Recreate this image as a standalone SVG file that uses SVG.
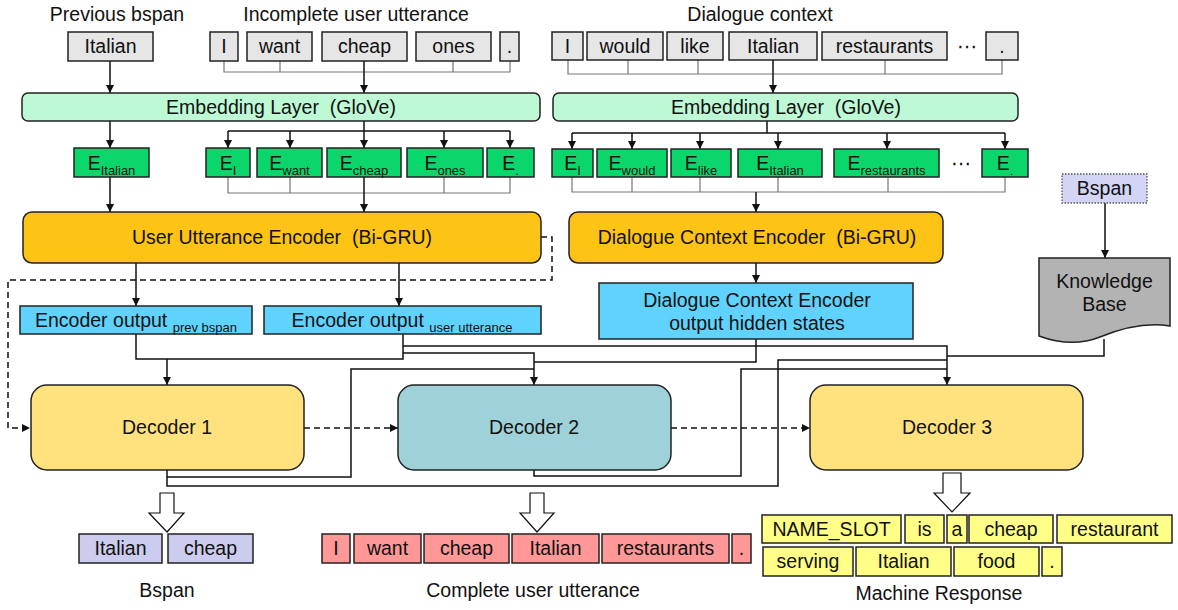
<svg xmlns="http://www.w3.org/2000/svg" width="1178" height="610" viewBox="0 0 1178 610">
<defs>
<style>
text{font-family:"Liberation Sans",Arial,"DejaVu Sans",sans-serif;font-size:19.5px;fill:#111;text-anchor:middle}
.s{font-size:13px}
.b{stroke:#222;stroke-width:1.5}
.gr{fill:#e6e6e6}
.em{fill:#bdf9d5}
.ge{fill:#0bd66b}
.en{fill:#fdc315}
.eo{fill:#5fd3fd}
.d1{fill:#ffe17e}
.d2{fill:#9fd2d8}
.lv{fill:#ccccee}
.rd{fill:#ff9896}
.yl{fill:#ffff88}
.ln{fill:none;stroke:#111;stroke-width:1.5}
.br{fill:none;stroke:#777;stroke-width:1.2}
.da{stroke-dasharray:6 4}
.ha{fill:#fff;stroke:#111;stroke-width:1.2}
</style>
<marker id="a" viewBox="0 0 10 10" refX="10" refY="5" markerWidth="8" markerHeight="8" markerUnits="userSpaceOnUse" orient="auto"><path d="M0,0 L10,5 L0,10 z" fill="#111"/></marker>
</defs>
<rect width="1178" height="610" fill="#fff"/>

<g id="titles">
<text x="117" y="21">Previous bspan</text>
<text x="356" y="21">Incomplete user utterance</text>
<text x="760" y="21">Dialogue context</text>
</g>

<g id="connectors">
<path class="ln" d="M110,61 V93" marker-end="url(#a)"/>
<path class="br" d="M224,61 V72 H510 V61 M280,61 V72 M453,61 V72"/>
<path class="ln" d="M364,61 V93" marker-end="url(#a)"/>
<path class="ln" d="M110,121 V148" marker-end="url(#a)"/>
<path class="ln" d="M364,121 V131 M228,131 H510"/>
<path class="ln" d="M228,131 V148" marker-end="url(#a)"/>
<path class="ln" d="M290,131 V148" marker-end="url(#a)"/>
<path class="ln" d="M364,131 V148" marker-end="url(#a)"/>
<path class="ln" d="M444,131 V148" marker-end="url(#a)"/>
<path class="ln" d="M510,131 V148" marker-end="url(#a)"/>
<path class="br" d="M228,177 V193 H510 V177 M290,177 V193 M444,177 V193"/>
<path class="ln" d="M364,177 V212" marker-end="url(#a)"/>
<path class="ln" d="M110,177 V212" marker-end="url(#a)"/>
<path class="br" d="M568,60 V74 H1002 V60 M628,60 V74 M698,60 V74 M885,60 V74"/>
<path class="ln" d="M773,60 V93" marker-end="url(#a)"/>
<path class="ln" d="M767,121 V133 M572,133 H1005"/>
<path class="ln" d="M572,133 V149" marker-end="url(#a)"/>
<path class="ln" d="M632,133 V149" marker-end="url(#a)"/>
<path class="ln" d="M700,133 V149" marker-end="url(#a)"/>
<path class="ln" d="M778,133 V149" marker-end="url(#a)"/>
<path class="ln" d="M887,133 V149" marker-end="url(#a)"/>
<path class="ln" d="M1005,133 V149" marker-end="url(#a)"/>
<path class="br" d="M572,177 V192 H1005 V177 M632,177 V192 M700,177 V192 M778,177 V192 M888,177 V192"/>
<path class="ln" d="M756,192 V212" marker-end="url(#a)"/>
<path class="ln" d="M756,263 V283" marker-end="url(#a)"/>
<path class="ln" d="M1105,203 V258" marker-end="url(#a)"/>
<path class="ln" d="M136,263 V306" marker-end="url(#a)"/>
<path class="ln" d="M399,263 V306" marker-end="url(#a)"/>
<path class="ln da" d="M541,237 H552 V280 H8 V428 H30" marker-end="url(#a)"/>
<path class="ln" d="M136,334 V359 H403 V334"/>
<path class="ln" d="M167,359 V385" marker-end="url(#a)"/>
<path class="ln" d="M403,346 H947 V385" marker-end="url(#a)"/>
<path class="ln" d="M403,353 H534 V385" marker-end="url(#a)"/>
<path class="ln" d="M756,339 V362 H534"/>
<path class="ln" d="M1104,339 V356 H947"/>
<path class="ln" d="M167,470 V486 H778 V360 H947"/>
<path class="ln" d="M167,477 H351 V369 H534"/>
<path class="ln" d="M534,470 V476 H741 V369 H947"/>
<path class="ln da" d="M304,428 H398" marker-end="url(#a)"/>
<path class="ln da" d="M671,428 H810" marker-end="url(#a)"/>
<path class="ha" d="M160,493 H174 V513 H184 L167,532 L149,513 H160 Z"/>
<path class="ha" d="M530,493 H544 V513 H554 L537,532 L520,513 H530 Z"/>
<path class="ha" d="M943,473 H961 V493 H970 L952,512 L934,493 H943 Z"/>
</g>

<g id="prev-bspan-input">
<rect class="b gr" x="68" y="32" width="85" height="29"/><text x="110.5" y="53">Italian</text>
</g>
<g id="user-utterance-input">
<rect class="b gr" x="210" y="32" width="28" height="29"/><text x="224" y="53">I</text>
<rect class="b gr" x="247" y="32" width="65" height="29"/><text x="279.5" y="53">want</text>
<rect class="b gr" x="322" y="32" width="85" height="29"/><text x="364.5" y="53">cheap</text>
<rect class="b gr" x="416" y="32" width="75" height="29"/><text x="453.5" y="53">ones</text>
<rect class="b gr" x="500" y="32" width="19" height="29"/><text x="509.5" y="53">.</text>
</g>
<g id="dialogue-context-input">
<rect class="b gr" x="552" y="32" width="31" height="28"/><text x="567.5" y="53">I</text>
<rect class="b gr" x="587" y="32" width="76" height="28"/><text x="625" y="53">would</text>
<rect class="b gr" x="667" y="32" width="56" height="28"/><text x="695" y="53">like</text>
<rect class="b gr" x="729" y="32" width="88" height="28"/><text x="773" y="53">Italian</text>
<rect class="b gr" x="822" y="32" width="125" height="28"/><text x="884.5" y="53">restaurants</text>
<text x="967" y="53">⋯</text>
<rect class="b gr" x="986" y="32" width="32" height="28"/><text x="1002" y="53">.</text>
</g>

<g id="embedding-1">
<rect class="b em" x="22" y="93" width="518" height="28" rx="6"/>
<text x="281" y="114">Embedding Layer&#160; (GloVe)</text>
</g>
<g id="embedding-2">
<rect class="b em" x="553" y="93" width="465" height="28" rx="6"/>
<text x="786" y="114">Embedding Layer&#160; (GloVe)</text>
</g>

<g id="embeddings-left">
<rect class="b ge" x="74" y="148" width="75" height="29"/><text x="111.5" y="170">E<tspan class="s" dy="5">Italian</tspan></text>
<rect class="b ge" x="206" y="148" width="44" height="29"/><text x="228" y="170">E<tspan class="s" dy="5">I</tspan></text>
<rect class="b ge" x="257" y="148" width="65" height="29"/><text x="289.5" y="170">E<tspan class="s" dy="5">want</tspan></text>
<rect class="b ge" x="327" y="148" width="74" height="29"/><text x="364" y="170">E<tspan class="s" dy="5">cheap</tspan></text>
<rect class="b ge" x="407" y="148" width="76" height="29"/><text x="445" y="170">E<tspan class="s" dy="5">ones</tspan></text>
<rect class="b ge" x="487" y="148" width="47" height="29"/><text x="510.5" y="170">E<tspan class="s" dy="5">.</tspan></text>
</g>
<g id="embeddings-right">
<rect class="b ge" x="552" y="149" width="41" height="28"/><text x="572.5" y="170">E<tspan class="s" dy="5">I</tspan></text>
<rect class="b ge" x="597" y="149" width="70" height="28"/><text x="632" y="170">E<tspan class="s" dy="5">would</tspan></text>
<rect class="b ge" x="671" y="149" width="60" height="28"/><text x="701" y="170">E<tspan class="s" dy="5">like</tspan></text>
<rect class="b ge" x="738" y="149" width="84" height="28"/><text x="780" y="170">E<tspan class="s" dy="5">Italian</tspan></text>
<rect class="b ge" x="834" y="149" width="105" height="28"/><text x="886.5" y="170">E<tspan class="s" dy="5">restaurants</tspan></text>
<text x="961" y="170">⋯</text>
<rect class="b ge" x="982" y="149" width="46" height="28"/><text x="1005" y="170">E<tspan class="s" dy="5">.</tspan></text>
</g>

<g id="user-utterance-encoder">
<rect class="b en" x="23" y="212" width="518" height="51" rx="9"/>
<text x="282" y="244">User Utterance Encoder&#160; (Bi-GRU)</text>
</g>
<g id="dialogue-context-encoder">
<rect class="b en" x="569" y="212" width="374" height="51" rx="9"/>
<text x="757" y="244">Dialogue Context Encoder&#160; (Bi-GRU)</text>
</g>

<g id="encoder-output-prev-bspan">
<rect class="b eo" x="20" y="306" width="232" height="28"/>
<text x="136" y="327">Encoder output <tspan class="s" dy="5">prev bspan</tspan></text>
</g>
<g id="encoder-output-user-utterance">
<rect class="b eo" x="264" y="306" width="277" height="28"/>
<text x="402" y="327">Encoder output <tspan class="s" dy="5">user utterance</tspan></text>
</g>
<g id="dialogue-context-output">
<rect class="b eo" x="599" y="283" width="314" height="56"/>
<text x="757" y="307">Dialogue Context Encoder</text>
<text x="757" y="330">output hidden states</text>
</g>

<g id="bspan-query">
<rect x="1062" y="174" width="85" height="29" fill="#d4d4f5" stroke="#555" stroke-width="1.3" stroke-dasharray="1.5 1.5"/>
<text x="1104.5" y="195">Bspan</text>
</g>
<g id="knowledge-base">
<path class="b" fill="#b3b3b3" d="M1039,258 H1170 V326 C1145,322 1122,328 1100,337 C1080,345 1058,343 1039,336 Z"/>
<text x="1104.5" y="288">Knowledge</text>
<text x="1104.5" y="311">Base</text>
</g>

<g id="decoder-1">
<rect class="b d1" x="31" y="385" width="273" height="85" rx="16"/>
<text x="167" y="434">Decoder 1</text>
</g>
<g id="decoder-2">
<rect class="b d2" x="398" y="385" width="273" height="85" rx="16"/>
<text x="534" y="434">Decoder 2</text>
</g>
<g id="decoder-3">
<rect class="b d1" x="810" y="385" width="273" height="85" rx="16"/>
<text x="947" y="434">Decoder 3</text>
</g>

<g id="bspan-output">
<rect class="b lv" x="79" y="534" width="83" height="29"/><text x="120.5" y="555">Italian</text>
<rect class="b lv" x="168" y="534" width="85" height="29"/><text x="210.5" y="555">cheap</text>
<text x="167" y="597">Bspan</text>
</g>
<g id="complete-utterance-output">
<rect class="b rd" x="322" y="534" width="28" height="29"/><text x="336" y="555">I</text>
<rect class="b rd" x="354" y="534" width="67" height="29"/><text x="387.5" y="555">want</text>
<rect class="b rd" x="424" y="534" width="85" height="29"/><text x="466.5" y="555">cheap</text>
<rect class="b rd" x="512" y="534" width="87" height="29"/><text x="555.5" y="555">Italian</text>
<rect class="b rd" x="602" y="534" width="127" height="29"/><text x="665.5" y="555">restaurants</text>
<rect class="b rd" x="732" y="534" width="19" height="29"/><text x="741.5" y="555">.</text>
<text x="533" y="597">Complete user utterance</text>
</g>
<g id="machine-response-output">
<rect class="b yl" x="762" y="515" width="139" height="28"/><text x="831.5" y="536">NAME_SLOT</text>
<rect class="b yl" x="905" y="515" width="39" height="28"/><text x="924.5" y="536">is</text>
<rect class="b yl" x="947" y="515" width="20" height="28"/><text x="957" y="536">a</text>
<rect class="b yl" x="969" y="515" width="84" height="28"/><text x="1011" y="536">cheap</text>
<rect class="b yl" x="1057" y="515" width="115" height="28"/><text x="1114.5" y="536">restaurant</text>
<rect class="b yl" x="763" y="547" width="90" height="29"/><text x="808" y="568">serving</text>
<rect class="b yl" x="856" y="547" width="95" height="29"/><text x="903.5" y="568">Italian</text>
<rect class="b yl" x="954" y="547" width="85" height="29"/><text x="996.5" y="568">food</text>
<rect class="b yl" x="1042" y="547" width="20" height="29"/><text x="1052" y="568">.</text>
<text x="939" y="600">Machine Response</text>
</g>
</svg>
